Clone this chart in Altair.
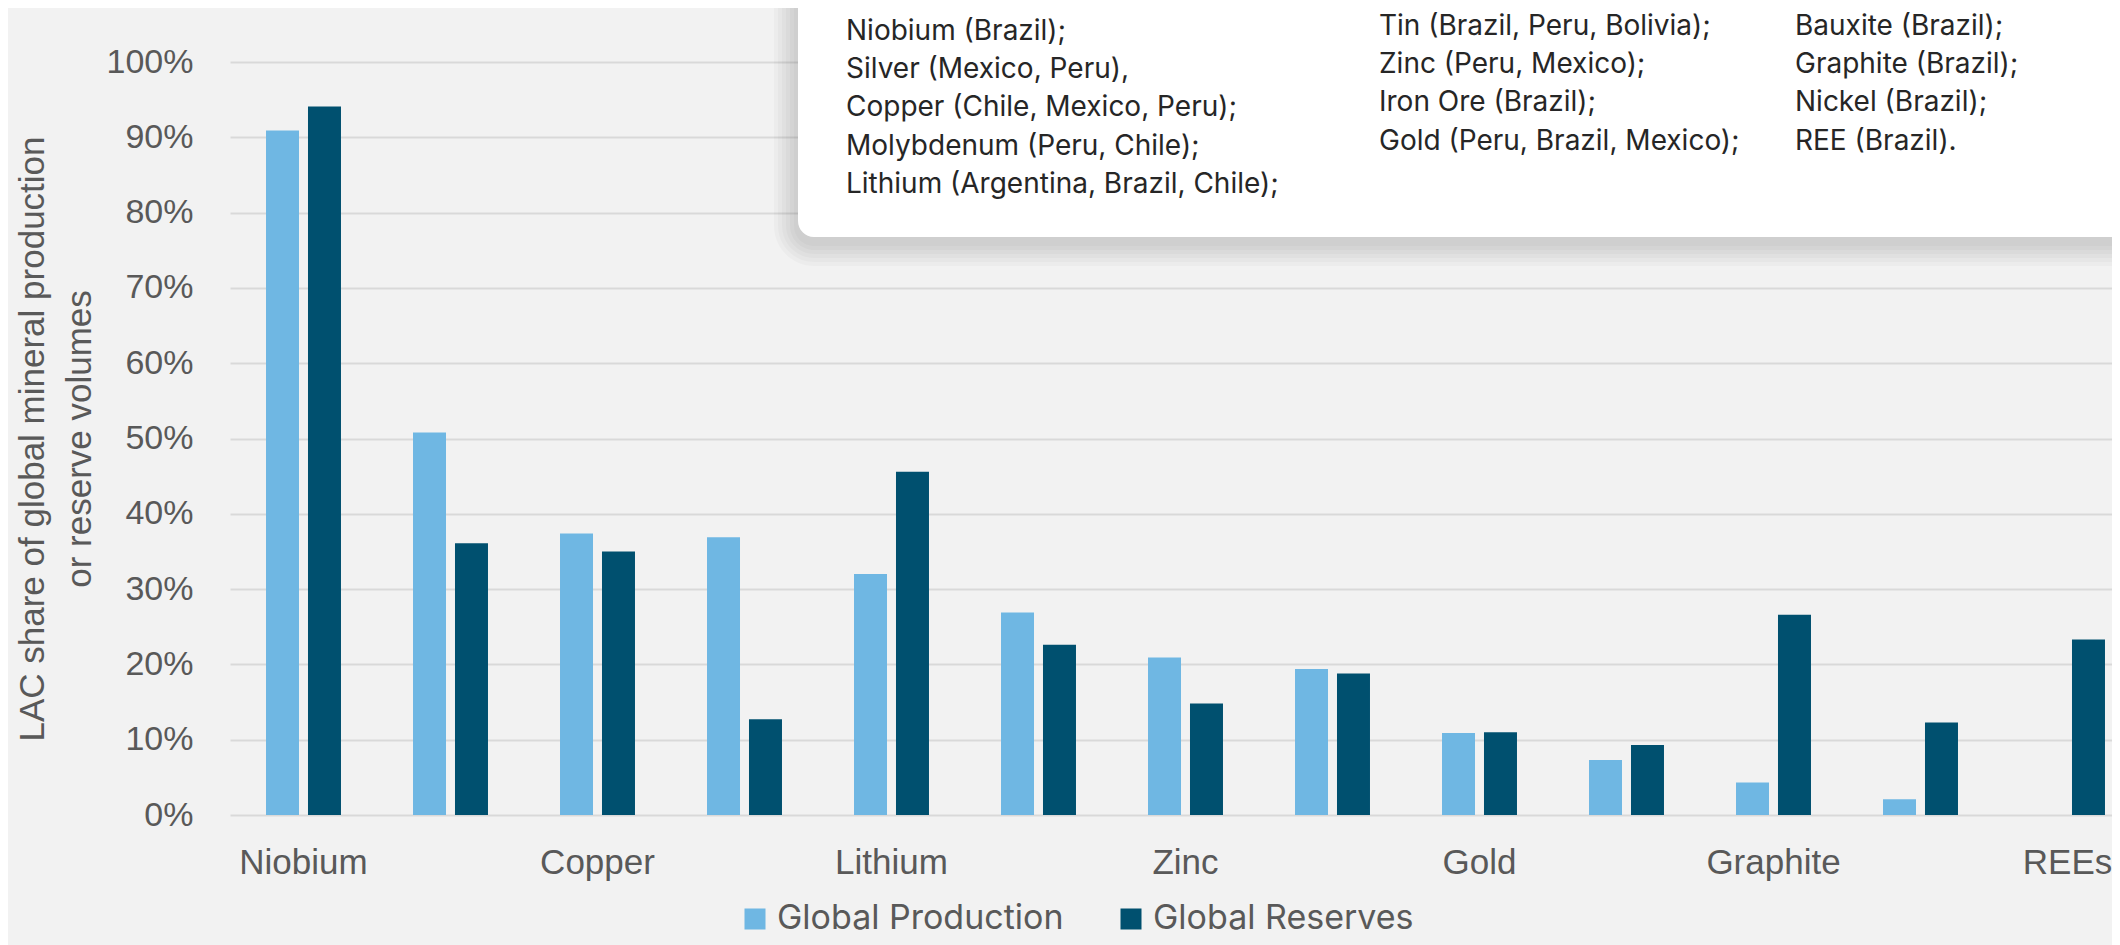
import altair as alt
import pandas as pd

minerals = ["Niobium", "Silver", "Copper", "Molybdenum", "Lithium", "Tin", "Zinc",
            "Iron Ore", "Gold", "Bauxite", "Graphite", "Nickel", "REEs"]
production = [90.9, 50.8, 37.4, 36.9, 32.0, 26.9, 20.9, 19.4, 10.9, 7.3, 4.3, 2.1, 0.0]
reserves = [94.1, 36.1, 35.0, 12.7, 45.6, 22.6, 14.8, 18.8, 11.0, 9.3, 26.6, 12.3, 23.3]
series = ["Global Production", "Global Reserves"]
colors = ["#6FB7E3", "#00506F"]
shown_labels = ["Niobium", "Copper", "Lithium", "Zinc", "Gold", "Graphite", "REEs"]
y_ticks = [0, 0.1, 0.2, 0.3, 0.4, 0.5, 0.6, 0.7, 0.8, 0.9, 1.0]
y_title = ["LAC share of global  mineral production", "or reserve volumes"]

note_col1 = ["Niobium (Brazil);", "Silver (Mexico, Peru),", "Copper (Chile, Mexico, Peru);",
             "Molybdenum (Peru, Chile);", "Lithium (Argentina, Brazil, Chile);"]
note_col2 = ["Tin (Brazil, Peru, Bolivia);", "Zinc (Peru, Mexico);", "Iron Ore (Brazil);",
             "Gold (Peru, Brazil, Mexico);"]
note_col3 = ["Bauxite (Brazil);", "Graphite (Brazil);", "Nickel (Brazil);", "REE (Brazil)."]

rows = []
for i, m in enumerate(minerals):
    rows.append({"mineral": m, "series": series[0], "share": production[i] / 100})
    rows.append({"mineral": m, "series": series[1], "share": reserves[i] / 100})
df = pd.DataFrame(rows)

AX_FONT = "Liberation Sans"
TXT_FONT = "Inter"
GREY = "#595959"

bars = alt.Chart(df).mark_bar().encode(
    x=alt.X("mineral:N", sort=minerals,
            scale=alt.Scale(range=[0, 1911], paddingInner=0.49, paddingOuter=0.245),
            axis=alt.Axis(values=shown_labels, labelAngle=0, title=None, domain=False,
                          ticks=False, grid=False, labelPadding=30, labelFont=AX_FONT,
                          labelFontSize=35, labelColor=GREY)),
    xOffset=alt.XOffset("series:N", sort=series,
                        scale=alt.Scale(paddingInner=0.214, paddingOuter=0)),
    y=alt.Y("share:Q", scale=alt.Scale(domain=[0, 1], nice=False),
            axis=alt.Axis(values=y_ticks, format=".0%", title=y_title, domain=False,
                          ticks=False, tickSize=0, grid=True, gridColor="#D9D9D9",
                          gridWidth=2, labelPadding=37, labelFont=AX_FONT,
                          labelFontSize=34, labelColor=GREY, titleFont=AX_FONT,
                          titleFontSize=35, titleFontWeight="normal", titleColor=GREY,
                          titleLineHeight=47, titlePadding=9)),
    color=alt.Color("series:N", sort=series,
                    scale=alt.Scale(domain=series, range=colors),
                    legend=alt.Legend(title=None, orient="none", legendX=508, legendY=840,
                                      direction="horizontal", symbolType="square",
                                      symbolSize=441, symbolStrokeWidth=0,
                                      labelFont=TXT_FONT, labelFontSize=34,
                                      labelColor=GREY, labelOffset=5, columnPadding=50,
                                      labelLimit=600, padding=0)),
)

one = pd.DataFrame({"k": [0]})

shadows = []
for k in range(1, 7):
    d = 4 * k
    shadows.append(
        alt.Chart(one).mark_rect(color="black", opacity=0.024, cornerRadius=16 + d).encode(
            x=alt.value(568 - d), x2=alt.value(2300),
            y=alt.value(-120), y2=alt.value(175 + 5 + d))
    )

box = alt.Chart(one).mark_rect(color="white", cornerRadius=16).encode(
    x=alt.value(568), x2=alt.value(2300), y=alt.value(-120), y2=alt.value(175))

def note(lines, x, y):
    return alt.Chart(one).mark_text(
        text=lines, align="left", baseline="alphabetic", font=TXT_FONT, fontSize=28,
        lineHeight=38.2, color="#262626").encode(x=alt.value(x), y=alt.value(y))

chart = alt.layer(
    bars, *shadows, box,
    note(note_col1, 616, -22),
    note(note_col2, 1149, -27),
    note(note_col3, 1565, -27),
).properties(
    width=1882, height=753,
    padding={"left": 222, "top": 54, "right": 0, "bottom": 130},
    autosize=alt.AutoSizeParams(type="none"),
    background="#F2F2F2",
).configure_view(stroke=None)

chart.save("out.html", embed_options={"renderer": "svg", "actions": False})
